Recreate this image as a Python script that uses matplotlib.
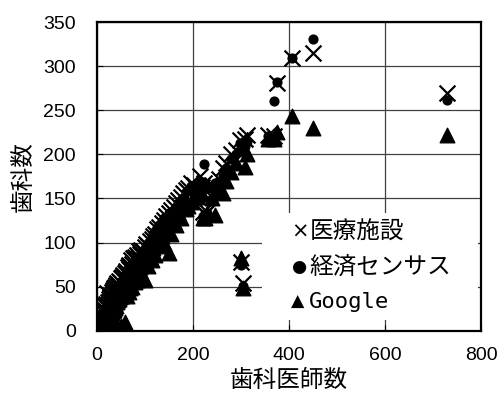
import matplotlib.pyplot as plt
from matplotlib.patches import Rectangle

plt.rcParams['font.family'] = ['Liberation Sans', 'Noto Sans CJK JP']

# 歯科医師数 (x) と各データソースの歯科数 (y)
dentists = [2, 3, 4, 5, 6, 7, 8, 9, 10, 11, 12, 13, 14, 15, 16, 17, 18, 19, 20, 21,
            22, 23, 24, 25, 26, 27, 28, 29, 30, 31, 32, 33, 34, 35, 36, 37, 38, 39, 40, 42,
            44, 46, 48, 50, 52, 55, 56, 58, 60, 62, 64, 66, 68, 70, 72, 74, 76, 79, 80, 83,
            85, 88, 90, 93, 96, 100, 103, 106, 110, 114, 118, 122, 126, 130, 135, 140, 145, 150, 155, 160,
            165, 170, 175, 180, 185, 190, 196, 203, 210, 214, 219, 221, 223, 225, 229, 240, 246, 255,
            263, 270, 280, 290, 298, 300, 304, 308, 312, 356, 369, 375, 406, 450, 729]
facility = [3, 5, 8, 6, 10, 9, 14, 12, 18, 13, 16, 22, 15, 20, 25, 19, 28, 22, 30, 43,
            26, 33, 29, 36, 31, 38, 34, 40, 37, 44, 39, 46, 42, 48, 45, 50, 47, 52, 49, 54,
            52, 57, 55, 60, 61, 63, 61, 66, 68, 65, 72, 70, 75, 73, 80, 76, 82, 80, 84, 86,
            83, 90, 87, 92, 90, 95, 98, 96, 102, 104, 108, 110, 115, 118, 122, 126, 130, 133, 137, 140,
            145, 148, 152, 156, 160, 162, 167, 165, 160, 175, 163, 135, 168, 132, 135, 165, 160, 172,
            185, 190, 200, 205, 216, 78, 54, 218, 222, 222, 221, 281, 309, 315, 270]
census = [2, 3, 4, 5, 6, 7, 8, 9, 10, 11, 12, 12, 13, 14, 15, 16, 17, 18, 19, 20,
          21, 22, 23, 24, 25, 26, 27, 28, 29, 30, 31, 32, 33, 34, 35, 36, 37, 38, 39, 41,
          43, 45, 46, 48, 50, 53, 54, 55, 57, 59, 61, 63, 65, 67, 69, 70, 72, 75, 76, 79,
          81, 83, 85, 88, 90, 93, 96, 99, 102, 106, 110, 113, 116, 120, 124, 128, 126, 133, 128, 137,
          140, 145, 148, 150, 157, 160, 164, 160, 165, 170, 162, 130, 189, 127, 133, 163, 168, 170,
          178, 185, 195, 200, 213, 75, 51, 210, 215, 221, 260, 282, 309, 331, 262]
google = [1, 2, 3, 2, 4, 3, 5, 6, 5, 8, 6, 9, 7, 10, 8, 12, 10, 14, 12, 15,
          13, 16, 18, 14, 19, 17, 21, 18, 22, 20, 24, 22, 26, 24, 28, 26, 30, 28, 8, 33,
          35, 36, 38, 5, 40, 42, 43, 10, 47, 40, 50, 44, 54, 48, 57, 50, 60, 55, 64, 58,
          68, 62, 72, 66, 76, 58, 82, 74, 88, 80, 94, 86, 100, 96, 108, 100, 115, 88, 110, 125,
          120, 135, 128, 140, 138, 142, 146, 150, 152, 165, 155, 128, 165, 128, 134, 150, 131, 160,
          156, 170, 180, 190, 207, 82, 49, 186, 200, 218, 218, 225, 243, 230, 222]
legend_marks = ['×', '●', '▲']
legend_labels = ['医療施設', '経済センサス', 'Google']

fig = plt.figure(figsize=(4.99, 4.01), dpi=100)
ax = fig.add_axes([0.194, 0.175, 0.77, 0.77])

ax.scatter(dentists, facility, marker='x', s=130, c='black', linewidths=1.6, zorder=3)
ax.scatter(dentists, census, marker='o', s=40, c='black', zorder=4)
ax.scatter(dentists, google, marker='^', s=110, c='black', zorder=5)

ax.set_xlim(0, 800)
ax.set_ylim(0, 350)
ax.set_xticks([0, 200, 400, 600, 800])
ax.set_yticks(range(0, 351, 50))
ax.grid(True, color='#404040', linewidth=0.9, zorder=0)
ax.set_axisbelow(True)
ax.tick_params(axis='both', direction='in', length=4, labelsize=14)
ax.tick_params(axis='x', pad=12)
ax.tick_params(axis='y', pad=15)
for sp in ax.spines.values():
    sp.set_linewidth(1.6)

ax.set_xlabel('歯科医師数', fontsize=17, family='Noto Sans CJK JP', labelpad=3)
ax.set_ylabel('歯科数', fontsize=17, family='Noto Sans CJK JP', labelpad=6)

# 凡例 (白抜きの文字ボックス)
ax.add_patch(Rectangle((0.43, 0.036), 0.562, 0.346, transform=ax.transAxes,
                       facecolor='white', edgecolor='none', zorder=6))
mark_sizes = [15, 12.5, 12.5]
for mk, ms, lbl, yy in zip(legend_marks, mark_sizes, legend_labels, [0.320, 0.207, 0.094]):
    ax.text(0.505, yy, mk, transform=ax.transAxes, va='center', ha='left',
            fontsize=ms, family='DejaVu Sans', zorder=7)
    if lbl == 'Google':
        ax.text(0.553, yy, lbl, transform=ax.transAxes, va='center', ha='left',
                fontsize=16, family='DejaVu Sans Mono', zorder=7)
    else:
        ax.text(0.553, yy, lbl, transform=ax.transAxes, va='center', ha='left',
                fontsize=17, family='Noto Sans CJK JP', zorder=7)

fig.savefig('out.png', dpi=100)
